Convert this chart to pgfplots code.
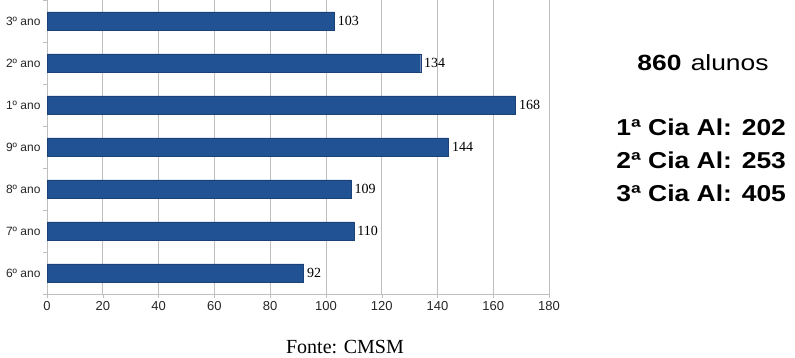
\documentclass[border=0pt]{standalone}
\usepackage{pgfplots}
\pgfplotsset{compat=1.18}
\usepackage{fontspec}
\setmainfont{Liberation Serif}
\newfontfamily\arialf{Liberation Sans}
\definecolor{barblue}{RGB}{33,82,148}
\definecolor{gridgray}{RGB}{190,190,190}
\begin{document}
\begin{tikzpicture}[x=1pt,y=1pt]
\useasboundingbox (0,0) rectangle (795,358);
\begin{axis}[
  at={(47pt,64pt)}, anchor=south west,
  scale only axis, width=502pt, height=294pt,
  xbar, bar width=18pt,
  xmin=0, xmax=180, ymin=-0.5, ymax=6.5,
  xtick={0,20,...,180},
  ytick={0,...,6},
  yticklabels={6º ano,7º ano,8º ano,9º ano,1º ano,2º ano,3º ano},
  minor ytick={-0.5,0.5,...,6.5},
  xmajorgrids, major grid style={gridgray, line width=0.6pt},
  axis line style={gridgray, line width=0.6pt},
  axis x line*=bottom, axis y line*=left,
  tick align=outside,
  major tick length=4pt, minor tick length=4pt,
  x tick style={gridgray},
  major y tick style={draw=none},
  minor y tick style={gridgray},
  xticklabel style={font=\arialf\fontsize{13}{13}\selectfont, text=black!85},
  yticklabel style={font=\arialf\fontsize{12}{12}\selectfont, text=black!85, xshift=1pt},
  /pgf/number format/assume math mode=true,
  nodes near coords,
  every node near coord/.append style={font=\fontsize{14}{14}\selectfont, text=black, anchor=west, xshift=0pt},
  clip=false,
]
\addplot[fill=barblue, draw=barblue!80!black] coordinates {
 (92,0) (110,1) (109,2) (144,3) (168,4) (134,5) (103,6)
};
\end{axis}
\draw[gridgray, line width=0.6pt] (549,64) -- (549,358);
\node[font=\arialf\fontsize{22}{22}\selectfont, xscale=1.2] at (703,295.5) {\textbf{860}\hspace{0.35em}alunos};
\node[font=\arialf\bfseries\fontsize{23}{23}\selectfont, anchor=east, xscale=1.15] at (790,231) {1ª Cia Al: 202};
\node[font=\arialf\bfseries\fontsize{23}{23}\selectfont, anchor=east, xscale=1.15] at (790,198) {2ª Cia Al: 253};
\node[font=\arialf\bfseries\fontsize{23}{23}\selectfont, anchor=east, xscale=1.15] at (790,165) {3ª Cia Al: 405};
\node[font=\fontsize{20}{20}\selectfont] at (345,11) {Fonte: CMSM};
\end{tikzpicture}
\end{document}
